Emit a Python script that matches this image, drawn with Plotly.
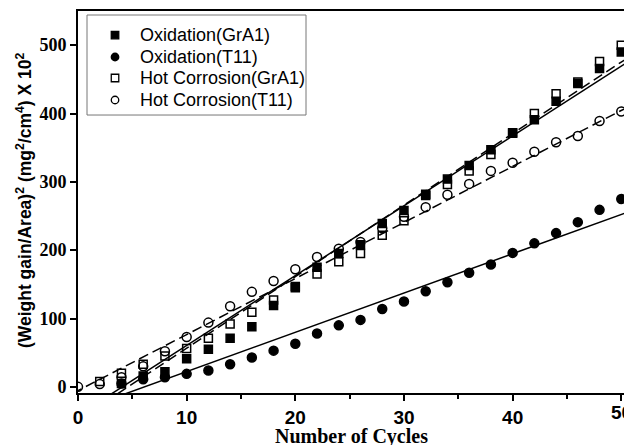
import plotly.graph_objects as go
import numpy as np

cycles = [0, 2, 4, 6, 8, 10, 12, 14, 16, 18, 20, 22, 24, 26, 28, 30, 32, 34, 36, 38, 40, 42, 44, 46, 48, 50]

ox_x = cycles[2:]
ox_gra1 = [5, 16, 22, 41, 55, 71, 88, 119, 145, 175, 195, 208, 239, 258, 280, 304, 324, 347, 372, 391, 418, 444, 466, 490]
ox_t11 = [5, 11, 14, 19, 24, 33, 43, 53, 63, 78, 90, 98, 114, 125, 140, 153, 167, 179, 196, 210, 225, 241, 259, 275]

hc_gra1_x = cycles[1:]
hc_gra1 = [8, 20, 33, 45, 56, 71, 92, 109, 127, 147, 165, 183, 195, 222, 243, 282, 296, 316, 340, 371, 400, 429, 446, 476, 500]
hc_t11 = [0, 4, 14, 30, 52, 73, 94, 118, 139, 155, 172, 190, 202, 212, 232, 249, 263, 281, 297, 316, 328, 344, 358, 367, 389, 403]

# linear fits (slope, intercept)
fit_ox_gra1 = (10.22, -41.7)
fit_ox_t11 = (5.75, -35.2)
fit_hc_gra1 = (10.47, -48.3)
fit_hc_t11 = (8.2, -5.5)

series_names = ["Oxidation(GrA1)", "Oxidation(T11)", "Hot Corrosion(GrA1)", "Hot Corrosion(T11)"]
series_symbols = ["square", "circle", "square-open", "circle-open"]

x_tickvals = [0, 10, 20, 30, 40, 50]
x_ticktext = ["0", "10", "20", "30", "40", ""]
x_edge_label = (50, "50")
y_tickvals = [0, 100, 200, 300, 400, 500]

x_title = "Number of Cycles"
y_title = "(Weight gain/Area)<sup>2</sup> (mg<sup>2</sup>/cm<sup>4</sup>) X 10<sup>2</sup>"

fig = go.Figure()

def add_fit(p, dash, x0):
    xs = np.array([x0, 51.0])
    fig.add_trace(go.Scatter(x=xs, y=p[0] * xs + p[1], mode="lines",
                             line=dict(color="black", width=1.5, dash=dash),
                             showlegend=False, hoverinfo="skip"))

add_fit(fit_ox_gra1, "solid", 2.0)
add_fit(fit_ox_t11, "solid", 3.0)
add_fit(fit_hc_gra1, "10px,5px", 2.5)
add_fit(fit_hc_t11, "10px,5px", -0.5)

data_x = [ox_x, ox_x, hc_gra1_x, cycles]
data_y = [ox_gra1, ox_t11, hc_gra1, hc_t11]
sizes = [8, 9, 8, 9]
for xs, ys, nm, sym, sz in zip(data_x, data_y, series_names, series_symbols, sizes):
    fig.add_trace(go.Scatter(x=xs, y=ys, mode="markers", name=nm, showlegend=False,
                             marker=dict(symbol=sym, size=sz, color="black", line=dict(width=1.5, color="black"))))

# manual legend (inside box at top-left of the plot)
leg_rows = [0.937, 0.8796, 0.8246, 0.767]
fig.add_trace(go.Scatter(x=[0.0678] * 4, y=leg_rows, xaxis="x2", yaxis="y2", mode="markers",
                         showlegend=False, hoverinfo="skip",
                         marker=dict(symbol=series_symbols, size=7.5, color="black", line=dict(width=1.3, color="black"))))
for nm, yy in zip(series_names, leg_rows):
    fig.add_annotation(text=nm, xref="paper", yref="paper", x=0.1099, y=yy,
                       xanchor="left", yanchor="middle", showarrow=False,
                       font=dict(family="Liberation Sans, Arial", size=18, color="black"))

fig.add_shape(type="rect", xref="paper", yref="paper",
              x0=0.0165, x1=0.4176, y0=0.7277, y1=0.9895,
              line=dict(color="#777777", width=1), fillcolor="rgba(0,0,0,0)", layer="above")

# tick label at the right edge (partly cut by the page edge, as in the original)
fig.add_annotation(text=x_edge_label[1], xref="x", yref="paper", x=x_edge_label[0], y=-0.050,
                   xanchor="center", yanchor="middle", showarrow=False,
                   font=dict(family="Liberation Sans, Arial", size=19, color="black", weight="bold"))

fig.add_annotation(text=x_title, xref="paper", yref="paper", x=0.5, y=-0.114,
                   xanchor="center", yanchor="middle", showarrow=False,
                   font=dict(family="Liberation Serif, Times New Roman", size=20, color="black", weight="bold"))
fig.add_annotation(text=y_title, xref="paper", yref="paper", x=-0.0989, y=0.505,
                   xanchor="center", yanchor="middle", showarrow=False, textangle=-90,
                   font=dict(family="Liberation Sans, Arial", size=17.5, color="black", weight="bold"))

fig.update_layout(
    width=624, height=445,
    margin=dict(l=78, r=0, t=11, b=52),
    paper_bgcolor="white", plot_bgcolor="white",
    showlegend=False,
    xaxis=dict(range=[0, 50.25], tickvals=x_tickvals, ticktext=x_ticktext, automargin=False,
               ticks="outside", ticklen=6, tickwidth=2, tickcolor="black",
               minor=dict(tickvals=[5, 15, 25, 35, 45], ticks="outside", ticklen=4, tickwidth=2, tickcolor="black"),
               showline=True, linewidth=2, linecolor="black", mirror=True,
               showgrid=False, zeroline=False,
               tickfont=dict(family="Liberation Sans, Arial", size=19, color="black", weight="bold")),
    yaxis=dict(range=[-9, 550], tickvals=y_tickvals, automargin=False,
               ticks="outside", ticklen=6, tickwidth=2, tickcolor="black",
               showline=True, linewidth=2, linecolor="black", mirror=True,
               showgrid=False, zeroline=False,
               tickfont=dict(family="Liberation Serif, Times New Roman", size=18, color="black", weight="bold")),
    xaxis2=dict(overlaying="x", range=[0, 1], visible=False, fixedrange=True),
    yaxis2=dict(overlaying="y", range=[0, 1], visible=False, fixedrange=True),
)

fig.write_html("out.html")
